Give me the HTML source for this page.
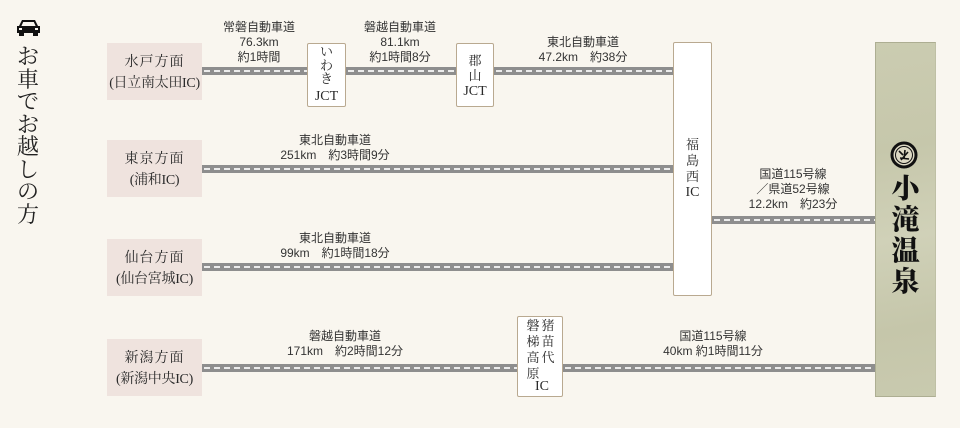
<!DOCTYPE html>
<html><head><meta charset="utf-8">
<style>
*{margin:0;padding:0;box-sizing:border-box}
body{width:960px;height:428px;background:#f9f6ef;position:relative;overflow:hidden;font-family:"Liberation Sans","Noto Sans CJK JP",sans-serif;color:#333}
.a{position:absolute}
.road{position:absolute;height:8px;background:#8e8e8e}
.road:after{content:"";position:absolute;left:2px;right:0;top:3px;height:2px;background:repeating-linear-gradient(90deg,#ececec 0 6px,transparent 6px 10px)}
.src{position:absolute;background:#efe3de;width:95px;height:57px;font-family:"Liberation Serif","Noto Serif CJK JP",serif;font-size:14px;line-height:21px;text-align:center;padding-top:9px;color:#2a2a2a;white-space:nowrap}
.src b{font-weight:normal;letter-spacing:1px}
.src span{letter-spacing:-0.3px}
.lbl{position:absolute;font-size:12px;line-height:15px;text-align:center;color:#333;white-space:nowrap}
.node{position:absolute;background:#fff;border:1px solid #b9a990;border-radius:2px}
.vt{position:absolute;font-family:"Liberation Serif","Noto Serif CJK JP",serif;text-align:center;color:#2a2a2a}
</style></head><body>

<!-- car icon -->
<svg class="a" style="left:16px;top:19px" width="25" height="18" viewBox="0 0 25 18">
<path d="M6 1 H19 L22 7 H24 V14 H1 V7 H3 Z" fill="#111"/>
<path d="M7.2 3 H17.8 L19.6 7 H5.4 Z" fill="#f9f6ef"/>
<rect x="3" y="13" width="5" height="4" fill="#111"/>
<rect x="17" y="13" width="5" height="4" fill="#111"/>
<rect x="3" y="9" width="3" height="2" fill="#f9f6ef"/>
<rect x="19" y="9" width="3" height="2" fill="#f9f6ef"/>
</svg>
<div class="vt" style="left:16px;top:46px;width:24px;font-size:22px;line-height:22.5px;color:#222">お<br>車<br>で<br>お<br>越<br>し<br>の<br>方</div>

<!-- source boxes -->
<div class="src" style="left:107px;top:43px"><b>水戸方面</b><br><span>(日立南太田IC)</span></div>
<div class="src" style="left:107px;top:140px"><b>東京方面</b><br><span>(浦和IC)</span></div>
<div class="src" style="left:107px;top:239px"><b>仙台方面</b><br><span>(仙台宮城IC)</span></div>
<div class="src" style="left:107px;top:339px"><b>新潟方面</b><br><span>(新潟中央IC)</span></div>

<!-- roads -->
<div class="road" style="left:202px;top:67px;width:105px"></div>
<div class="road" style="left:346px;top:67px;width:110px"></div>
<div class="road" style="left:494px;top:67px;width:179px"></div>
<div class="road" style="left:202px;top:165px;width:471px"></div>
<div class="road" style="left:202px;top:263px;width:471px"></div>
<div class="road" style="left:712px;top:216px;width:163px"></div>
<div class="road" style="left:202px;top:364px;width:315px"></div>
<div class="road" style="left:563px;top:364px;width:312px"></div>

<!-- road labels -->
<div class="lbl" style="left:199px;top:20px;width:120px">常磐自動車道<br>76.3km<br>約1時間</div>
<div class="lbl" style="left:340px;top:20px;width:120px">磐越自動車道<br>81.1km<br>約1時間8分</div>
<div class="lbl" style="left:513px;top:35px;width:140px">東北自動車道<br>47.2km　約38分</div>
<div class="lbl" style="left:265px;top:133px;width:140px">東北自動車道<br>251km　約3時間9分</div>
<div class="lbl" style="left:265px;top:231px;width:140px">東北自動車道<br>99km　約1時間18分</div>
<div class="lbl" style="left:723px;top:167px;width:140px">国道115号線<br>／県道52号線<br>12.2km　約23分</div>
<div class="lbl" style="left:270px;top:329px;width:150px">磐越自動車道<br>171km　約2時間12分</div>
<div class="lbl" style="left:638px;top:329px;width:150px">国道115号線<br>40km 約1時間11分</div>

<!-- nodes -->
<div class="node" style="left:307px;top:43px;width:39px;height:64px"></div>
<div class="vt" style="left:307px;top:45px;width:39px;font-size:13px;line-height:13.5px">い<br>わ<br>き</div>
<div class="vt" style="left:307px;top:88px;width:39px;font-size:14px;line-height:18px">JCT</div>

<div class="node" style="left:456px;top:43px;width:38px;height:64px"></div>
<div class="vt" style="left:456px;top:53px;width:38px;font-size:13px;line-height:15px">郡<br>山</div>
<div class="vt" style="left:456px;top:83px;width:38px;font-size:14px;line-height:18px">JCT</div>

<div class="node" style="left:673px;top:42px;width:39px;height:254px"></div>
<div class="vt" style="left:673px;top:137px;width:39px;font-size:13px;line-height:16px">福<br>島<br>西</div>
<div class="vt" style="left:673px;top:184px;width:39px;font-size:14px;line-height:18px">IC</div>

<div class="node" style="left:517px;top:316px;width:46px;height:81px"></div>
<div class="vt" style="left:540px;top:318px;width:16px;font-size:13px;line-height:16px">猪<br>苗<br>代</div>
<div class="vt" style="left:525px;top:318px;width:16px;font-size:13px;line-height:16px">磐<br>梯<br>高<br>原</div>
<div class="vt" style="left:532px;top:379px;width:20px;font-size:14px;line-height:16px">IC</div>

<!-- onsen column -->
<div class="a" style="left:875px;top:42px;width:61px;height:355px;background:linear-gradient(170deg,#cbccb1 0%,#c6c7ab 30%,#d0d1b8 55%,#c5c6aa 80%,#c9caaf 100%);border:1px solid #adae92;border-right-color:#bfc0a5"></div>
<svg class="a" style="left:890px;top:141px" width="28" height="28" viewBox="0 0 28 28">
<circle cx="14" cy="14" r="12" fill="#ddd9c4" stroke="#111" stroke-width="3"/>
<circle cx="14" cy="14" r="8.5" fill="none" stroke="#111" stroke-width="1"/>
<path d="M9 10 L13 14 M15 9 L14 18 M18 11 L11 19 M10 17 L19 18" stroke="#111" stroke-width="1.6" fill="none"/>
</svg>
<div class="vt" style="left:875px;top:172px;width:61px;font-size:28px;line-height:31px;font-weight:900;color:#111;font-family:'Noto Serif CJK JP','Noto Serif CJK SC',serif">小<br>滝<br>温<br>泉</div>

</body></html>
